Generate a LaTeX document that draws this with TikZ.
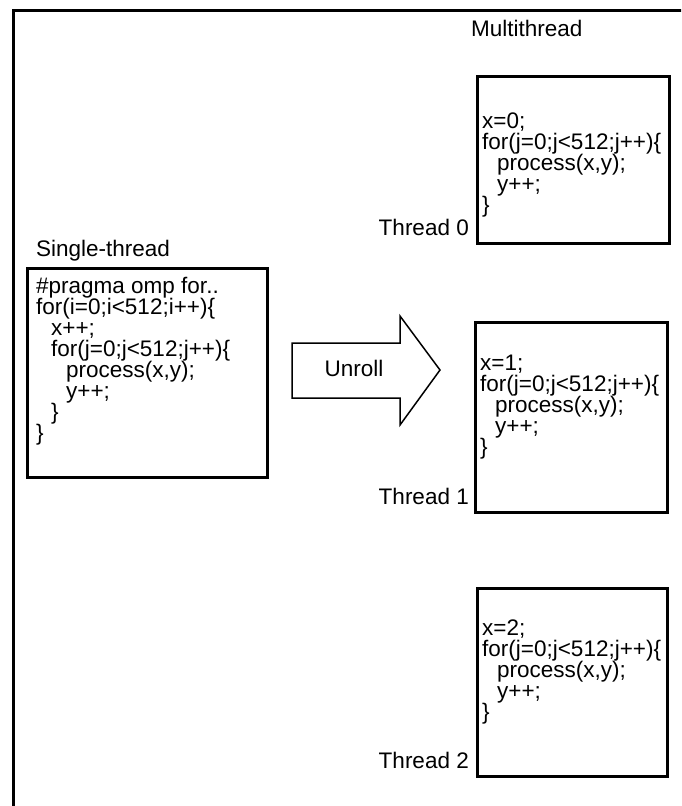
\documentclass[tikz,border=0pt]{standalone}
\usepackage{fontspec}
\setmainfont{Liberation Sans}
\begin{document}
\begin{tikzpicture}[x=1pt,y=-1pt,
  txt/.style={font=\fontsize{22.5}{21}\selectfont, inner sep=0pt},
  codeline/.style={txt, anchor=base west},
  boxline/.style={draw, line width=3pt},
  thick frame/.style={line width=3pt},
  arrowshape/.style={draw, line width=1.5pt, line join=miter}]
\useasboundingbox (0,0) rectangle (681,806);
\clip (0,0) rectangle (681,806);
% outer frame
\coordinate (fbl) at (13,830);
\coordinate (ftl) at (13,10);
\coordinate (ftr) at (700,10);
\draw[thick frame] (fbl) -- (ftl) -- (ftr);
% titles
\node[txt, anchor=base west] (multi) at (471,36) {Multithread};
\node[txt, anchor=base west] (single) at (36,256) {Single-thread};
% single-thread box
\draw[boxline] (27,268) rectangle (267,477);
\node[codeline] (s1) at (36,293) {\#pragma omp for..};
\node[codeline] (s2) at (36,314) {for(i=0;i<512;i++)\{};
\node[codeline] (s3) at (51,335) {x++;};
\node[codeline] (s4) at (51,356) {for(j=0;j<512;j++)\{};
\node[codeline] (s5) at (66,377) {process(x,y);};
\node[codeline] (s6) at (66,398) {y++;};
\node[codeline] (s7) at (51,419) {\}};
\node[codeline] (s8) at (36,440) {\}};
% thread 0
\draw[boxline] (477,76) rectangle (669,243);
\node[codeline] (a1) at (482,128) {x=0;};
\node[codeline] (a2) at (482,149) {for(j=0;j<512;j++)\{};
\node[codeline] (a3) at (497,170) {process(x,y);};
\node[codeline] (a4) at (497,191) {y++;};
\node[codeline] (a5) at (482,212) {\}};
\node[txt, anchor=base east] (t0) at (469,235) {Thread 0};
% thread 1
\draw[boxline] (475,322) rectangle (667,512);
\node[codeline] (b1) at (480,370) {x=1;};
\node[codeline] (b2) at (480,391) {for(j=0;j<512;j++)\{};
\node[codeline] (b3) at (495,412) {process(x,y);};
\node[codeline] (b4) at (495,433) {y++;};
\node[codeline] (b5) at (480,454) {\}};
\node[txt, anchor=base east] (t1) at (469,504) {Thread 1};
% thread 2
\draw[boxline] (477,588) rectangle (667,776);
\node[codeline] (c1) at (482,635) {x=2;};
\node[codeline] (c2) at (482,656) {for(j=0;j<512;j++)\{};
\node[codeline] (c3) at (497,677) {process(x,y);};
\node[codeline] (c4) at (497,698) {y++;};
\node[codeline] (c5) at (482,719) {\}};
\node[txt, anchor=base east] (t2) at (469,768) {Thread 2};
% unroll arrow
\draw[arrowshape] (292,343) -- (400,343) -- (400,316) -- (440,370) -- (400,425) -- (400,398) -- (292,398) -- cycle;
\node[txt] (unroll) at (354,368) {Unroll};
\end{tikzpicture}
\end{document}
